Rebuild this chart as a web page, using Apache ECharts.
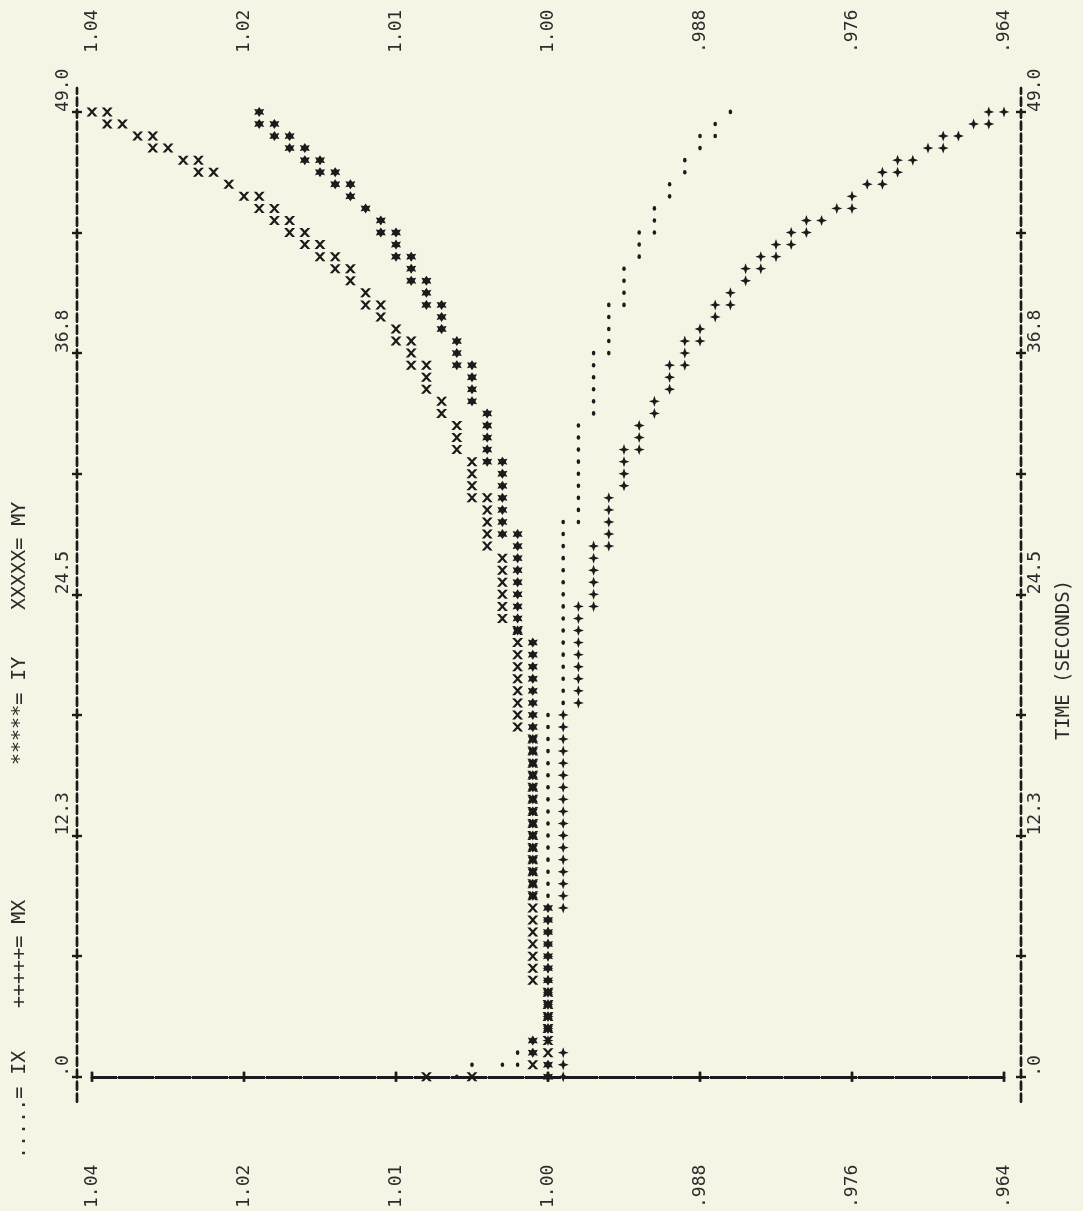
<!DOCTYPE html>
<html><head><meta charset="utf-8">
<script src="https://cdn.jsdelivr.net/npm/echarts@6/dist/echarts.min.js"></script>
<style>html,body{margin:0;padding:0;background:#f6f4e4}#c{width:1083px;height:1211px}</style>
</head><body><div id="c"></div>
<script>
// ---- axis ticks / labels ----
const timeTicks = [0, 6.125, 12.25, 18.375, 24.5, 30.625, 36.75, 42.875, 49];
const timeLabelValues = [0, 12.25, 24.5, 36.75, 49];
const timeLabelText = ['.0', '12.3', '24.5', '36.8', '49.0'];
const valueTicks = [1.036, 1.024, 1.012, 1.000, 0.988, 0.976, 0.964];
const valueTickText = ['1.04', '1.02', '1.01', '1.00', '.988', '.976', '.964'];
const legendText = ['.....= IX', '+++++= MX', '*****= IY', 'XXXXX= MY'];
const axisTitle = 'TIME (SECONDS)';
const rowStep = 0.6125; // seconds per printer row (49.0 s / 80 rows)

// ---- data: one entry per printer row (row 0 = t 0 ... row 80 = t 49); several samples per row where several marks print ----
const IX = [
  1.0072, [1.0060, 1.0036, 1.0024], 1.0024, 1.0000, 1.0000, 1.0000, 1.0000, 1.0000, 1.0000, 1.0000,
  1.0000, 1.0000, 1.0000, 1.0000, 1.0000, 1.0000, 1.0000, 1.0000, 1.0000, 1.0000,
  1.0000, 1.0000, 1.0000, 1.0000, 1.0000, 1.0000, 1.0000, 1.0000, 1.0000, 1.0000,
  1.0000, 0.9988, 0.9988, 0.9988, 0.9988, 0.9988, 0.9988, 0.9988, 0.9988, 0.9988,
  0.9988, 0.9988, 0.9988, 0.9988, 0.9988, 0.9988, [0.9988, 0.9976], 0.9976, 0.9976, 0.9976,
  0.9976, 0.9976, 0.9976, 0.9976, 0.9976, 0.9964, 0.9964, 0.9964, 0.9964, 0.9964,
  [0.9964, 0.9952], 0.9952, 0.9952, 0.9952, [0.9952, 0.9940], 0.9940, 0.9940, 0.9940, 0.9928, 0.9928,
  [0.9928, 0.9916], 0.9916, 0.9916, 0.9904, 0.9904, 0.9892, 0.9892, 0.9880, [0.9880, 0.9868], 0.9868,
  0.9856
];
const MX = [
  0.9988, 0.9988, 0.9988, 1.0000, 1.0000, 1.0000, 1.0000, 1.0000, 1.0000, 1.0000,
  1.0000, 1.0000, 1.0000, 1.0000, 0.9988, 0.9988, 0.9988, 0.9988, 0.9988, 0.9988,
  0.9988, 0.9988, 0.9988, 0.9988, 0.9988, 0.9988, 0.9988, 0.9988, 0.9988, 0.9988,
  0.9988, 0.9976, 0.9976, 0.9976, 0.9976, 0.9976, 0.9976, 0.9976, 0.9976, [0.9976, 0.9964],
  0.9964, 0.9964, 0.9964, 0.9964, [0.9964, 0.9952], 0.9952, 0.9952, 0.9952, 0.9952, 0.9940,
  0.9940, 0.9940, [0.9940, 0.9928], 0.9928, 0.9928, 0.9916, 0.9916, 0.9904, 0.9904, [0.9904, 0.9892],
  0.9892, [0.9892, 0.9880], 0.9880, 0.9868, [0.9868, 0.9856], 0.9856, 0.9844, [0.9844, 0.9832], [0.9832, 0.9820], [0.9820, 0.9808],
  [0.9808, 0.9796], [0.9796, 0.9784], [0.9772, 0.9760], 0.9760, [0.9748, 0.9736], [0.9736, 0.9724], [0.9724, 0.9712], [0.9700, 0.9688], [0.9688, 0.9676], [0.9664, 0.9652],
  [0.9652, 0.9640]
];
const IY = [
  1.0000, 1.0000, 1.0012, 1.0012, 1.0000, 1.0000, 1.0000, 1.0000, 1.0000, 1.0000,
  1.0000, 1.0000, 1.0000, 1.0000, 1.0000, 1.0012, 1.0012, 1.0012, 1.0012, 1.0012,
  1.0012, 1.0012, 1.0012, 1.0012, 1.0012, 1.0012, 1.0012, 1.0012, 1.0012, 1.0012,
  1.0012, 1.0012, 1.0012, 1.0012, 1.0012, 1.0012, 1.0012, 1.0024, 1.0024, 1.0024,
  1.0024, 1.0024, 1.0024, 1.0024, 1.0024, [1.0036, 1.0024], 1.0036, 1.0036, 1.0036, 1.0036,
  1.0036, [1.0048, 1.0036], 1.0048, 1.0048, 1.0048, 1.0048, 1.0060, 1.0060, 1.0060, [1.0072, 1.0060],
  1.0072, 1.0072, 1.0084, 1.0084, [1.0096, 1.0084], 1.0096, [1.0108, 1.0096], 1.0108, [1.0120, 1.0108], 1.0120,
  [1.0132, 1.0120], 1.0132, 1.0144, 1.0156, [1.0168, 1.0156], [1.0180, 1.0168], [1.0192, 1.0180], [1.0204, 1.0192], [1.0216, 1.0204], [1.0228, 1.0216],
  1.0228
];
const MY = [
  [1.0096, 1.0060], 1.0012, 1.0000, 1.0000, 1.0000, 1.0000, 1.0000, 1.0000, 1.0012, 1.0012,
  1.0012, 1.0012, 1.0012, 1.0012, 1.0012, 1.0012, 1.0012, 1.0012, 1.0012, 1.0012,
  1.0012, 1.0012, 1.0012, 1.0012, 1.0012, 1.0012, 1.0012, 1.0012, 1.0012, 1.0024,
  1.0024, 1.0024, 1.0024, 1.0024, 1.0024, 1.0024, 1.0024, 1.0024, 1.0036, 1.0036,
  1.0036, 1.0036, 1.0036, 1.0036, 1.0048, 1.0048, 1.0048, 1.0048, [1.0060, 1.0048], 1.0060,
  1.0060, 1.0060, 1.0072, 1.0072, 1.0072, 1.0084, 1.0084, 1.0096, 1.0096, [1.0108, 1.0096],
  1.0108, [1.0120, 1.0108], 1.0120, 1.0132, [1.0144, 1.0132], 1.0144, 1.0156, [1.0168, 1.0156], [1.0180, 1.0168], [1.0192, 1.0180],
  [1.0204, 1.0192], [1.0216, 1.0204], [1.0228, 1.0216], [1.0240, 1.0228], 1.0252, [1.0276, 1.0264], [1.0288, 1.0276], [1.0312, 1.0300], [1.0324, 1.0312], [1.0348, 1.0336],
  [1.0360, 1.0348]
];

// ---- build ----
function toPoints(rows) {
  const pts = [];
  rows.forEach((r, k) => {
    const t = k * rowStep;
    (Array.isArray(r) ? r : [r]).forEach(v => pts.push([v, t]));
  });
  return pts;
}
const INK = '#1b1b1b';
const TXT = '#2b2b2b';
const FONT = 'DejaVu Sans Mono';
const pick = (vals, txt) => v => { const i = vals.findIndex(x => Math.abs(x - v) < 1e-6); return i < 0 ? '' : txt[i]; };
const fmtVal = pick(valueTicks, valueTickText);
const fmtTime = pick(timeLabelValues, timeLabelText);

const frameT = [-1.264, 50.214]; // printed frame extent in seconds
const hLine = { lineStyle: { color: INK, width: 2.6, type: [34, 3] } };
const vLine = { lineStyle: { color: INK, width: 2.4, type: [8, 4] } };

function xAx(position, inside, labels) {
  return {
    type: 'value', position, min: 0.964, max: 1.036, inverse: true,
    axisLine: { show: true, ...hLine },
    splitLine: { show: false },
    axisTick: { show: true, inside, length: 5, customValues: valueTicks, lineStyle: { color: INK, width: 2.4 } },
    axisLabel: labels ? {
      show: true, customValues: valueTicks, formatter: fmtVal, rotate: 90,
      align: position === 'top' ? 'left' : 'right', verticalAlign: 'middle',
      margin: position === 'top' ? 35 : 63,
      fontFamily: FONT, fontSize: 18, color: TXT
    } : { show: false }
  };
}
function yAx(position, offset, inside, labels) {
  return {
    type: 'value', position, offset, min: frameT[0], max: frameT[1],
    axisLine: { show: true, ...vLine },
    splitLine: { show: false },
    axisTick: { show: true, inside, length: 5, customValues: timeTicks, lineStyle: { color: INK, width: 2.4 } },
    axisLabel: labels ? {
      show: true, customValues: timeLabelValues, formatter: fmtTime, rotate: 90,
      align: 'left', verticalAlign: 'middle', margin: 14,
      fontFamily: FONT, fontSize: 18, color: TXT
    } : { show: false }
  };
}

const symX = 'path://M0,0H2.7L5,3.1L7.3,0H10L6.3,5L10,10H7.3L5,6.9L2.7,10H0L3.7,5Z';
const symStar = 'path://M5,0L6.8,2.6L10,2L8.4,5L10,8L6.8,7.4L5,10L3.2,7.4L0,8L1.6,5L0,2L3.2,2.6Z';
const symPlus = 'path://M5,0L6.3,3.7L10,5L6.3,6.3L5,10L3.7,6.3L0,5L3.7,3.7Z';

function sc(name, rows, symbol, size) {
  return { name, type: 'scatter', data: toPoints(rows), symbol, symbolSize: size,
    itemStyle: { color: INK, opacity: 1 }, silent: true, clip: false };
}

const legendY = [1159, 1008, 765, 610];
const graphics = legendText.map((s, i) => ({
  type: 'text', x: 20, y: legendY[i], rotation: Math.PI / 2,
  style: { text: s, font: '20px "DejaVu Sans Mono"', fill: TXT, align: 'left', verticalAlign: 'middle' }
}));
graphics.push({ type: 'text', x: 1064, y: 660, rotation: Math.PI / 2,
  style: { text: axisTitle, font: '19px "DejaVu Sans Mono"', fill: TXT, align: 'center', verticalAlign: 'middle' } });

const chart = echarts.init(document.getElementById('c'));
chart.setOption({
  backgroundColor: '#f6f4e4',
  animation: false,
  grid: { left: 92, right: 79, top: 88, bottom: 105 },
  xAxis: [xAx('top', false, true), xAx('bottom', false, true), xAx('top', true, false), xAx('bottom', true, false)],
  yAxis: [yAx('left', 15, false, true), yAx('right', 17, false, true), yAx('left', 15, true, false), yAx('right', 17, true, false)],
  graphic: graphics,
  series: [
    sc('IX', IX, 'circle', [3.6, 4.6]),
    sc('MX', MX, symPlus, [11, 11]),
    sc('IY', IY, symStar, [10, 10]),
    sc('MY', MY, symX, [11, 9])
  ]
});
</script></body></html>
